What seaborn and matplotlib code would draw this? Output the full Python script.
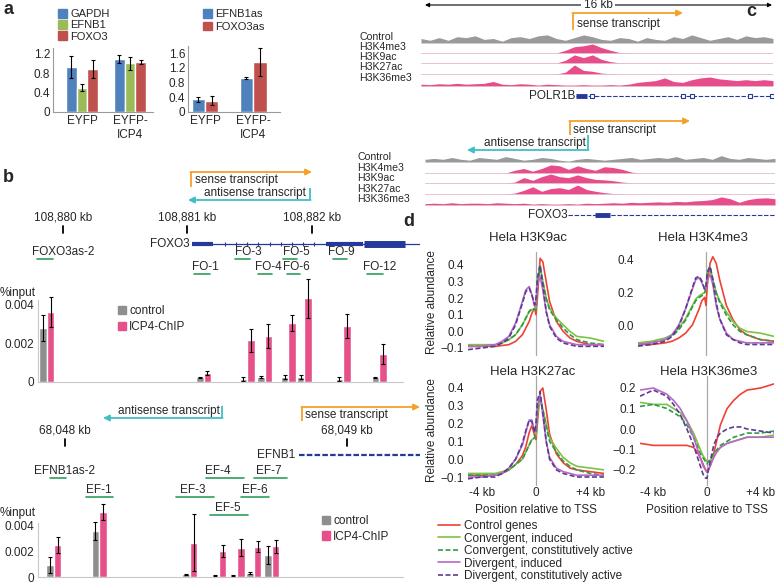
import numpy as np
import pandas as pd
import matplotlib
matplotlib.use("Agg")
import matplotlib.pyplot as plt
from matplotlib.patches import Patch
from matplotlib.lines import Line2D
import seaborn as sns

W, H = 777, 584

# ---------------- data ----------------
# panel a: relative expression
cond_a = ["EYFP", "EYFP-\nICP4"]
gapdh = [0.92, 1.08]
gapdh_err = [0.23, 0.08]
efnb1 = [0.50, 1.00]
efnb1_err = [0.07, 0.13]
foxo3 = [0.88, 1.02]
foxo3_err = [0.19, 0.04]
efnb1as = [0.35, 0.92]
efnb1as_err = [0.07, 0.03]
foxo3as = [0.31, 1.36]
foxo3as_err = [0.12, 0.38]

# panel b, FOXO3 locus (kb from 108,880 kb)
fo_names = ["FOXO3as-2", "FO-1", "FO-3", "FO-4", "FO-5", "FO-6", "FO-9", "FO-12"]
fo_pos = [-0.13, 1.13, 1.48, 1.62, 1.81, 1.94, 2.25, 2.54]
fo_ctrl = [0.00277, 0.00025, 0.00015, 0.00024, 0.00027, 0.00027, 0.00015, 0.00024]
fo_ctrl_err = [0.00065, 0.00002, 0.0001, 0.00005, 0.0001, 0.0001, 0.0001, 0.00002]
fo_chip = [0.0036, 0.00046, 0.00215, 0.00236, 0.00303, 0.0043, 0.00287, 0.00144]
fo_chip_err = [0.00077, 0.0001, 0.0006, 0.0006, 0.0004, 0.001, 0.0006, 0.0005]
fo_amp_start = [-0.209, 1.052, 1.382, 1.566, 1.767, 1.799, 2.169, 2.442]
fo_amp_end = [-0.080, 1.181, 1.502, 1.679, 1.880, 1.904, 2.281, 2.570]
fo_label_kb = [0.0, 1.141, 1.486, 1.647, 1.871, 1.871, 2.233, 2.546]
fo_row = [0, 1, 0, 1, 0, 1, 0, 1]

# panel b, EFNB1 locus (kb from 68,048 kb)
ef_names = ["EFNB1as-2", "EF-1", "EF-3", "EF-4", "EF-5", "EF-6", "EF-7"]
ef_pos = [-0.039, 0.121, 0.443, 0.546, 0.610, 0.670, 0.734]
ef_ctrl = [0.00094, 0.0036, 0.0002, 0.0001, 0.0001, 0.0003, 0.0017]
ef_ctrl_err = [0.0006, 0.0007, 0.00003, 0.00005, 0.00006, 0.00006, 0.0007]
ef_chip = [0.0025, 0.0051, 0.0027, 0.00206, 0.0023, 0.00238, 0.0024]
ef_chip_err = [0.0006, 0.0006, 0.0022, 0.00046, 0.00065, 0.00043, 0.0005]
ef_amp_start = [-0.053, 0.074, 0.394, 0.500, 0.514, 0.624, 0.670]
ef_amp_end = [0.004, 0.170, 0.528, 0.635, 0.649, 0.723, 0.787]
ef_label_kb = [0.0, 0.121, 0.454, 0.543, 0.578, 0.674, 0.723]
ef_row = [0, 1, 1, 0, 2, 1, 0]

# panel c, coverage tracks (16 kb windows, 40 bins)
polr_control = [0.5, 0.3, 0.6, 0.3, 0.7, 0.6, 0.8, 0.4, 0.5, 0.2, 0.6, 0.7, 0.5, 0.8, 0.9, 0.5, 0.3, 0.6, 0.9, 0.7,
                0.4, 0.3, 0.6, 0.5, 0.2, 0.6, 0.4, 0.3, 0.7, 0.5, 0.9, 0.6, 0.3, 0.5, 0.7, 0.4, 0.8, 0.6, 0.7, 0.5]
polr_k4 = [0, 0, 0, 0, 0, 0, 0, 0, 0, 0, 0, 0, 0, 0, 0, 0, 0.3, 0.7, 0.8, 1.0,
           0.6, 0.3, 0.05, 0, 0, 0, 0, 0, 0, 0, 0, 0, 0, 0, 0, 0, 0, 0, 0, 0]
polr_k9 = [0, 0, 0, 0, 0, 0, 0, 0, 0, 0, 0, 0, 0, 0, 0, 0, 0.3, 0.9, 0.6, 0.9,
           0.4, 0.15, 0.02, 0, 0, 0, 0, 0, 0, 0, 0, 0, 0, 0, 0, 0, 0, 0, 0, 0]
polr_k27 = [0, 0, 0, 0, 0, 0, 0, 0, 0, 0, 0, 0, 0, 0, 0, 0, 0.2, 1.0, 0.4, 0.3,
            0.1, 0.02, 0, 0, 0, 0, 0, 0, 0, 0, 0, 0, 0, 0, 0, 0, 0, 0, 0, 0]
polr_k36 = [0.2, 0.15, 0.25, 0.2, 0.3, 0.2, 0.25, 0.3, 0.5, 0.2, 0.15, 0.25, 0.2, 0.1, 0.2, 0.15, 0.1, 0.1, 0.15, 0.1,
            0.1, 0.15, 0.1, 0.2, 0.4, 0.5, 0.6, 0.9, 0.5, 0.4, 0.7, 0.9, 1.0, 0.8, 0.7, 0.6, 0.7, 0.6, 0.7, 0.6]
foxo_control = [0.3, 0.4, 0.3, 0.5, 0.3, 0.2, 0.5, 0.4, 0.3, 0.6, 0.4, 0.2, 0.3, 0.5, 0.4, 0.2, 0.1, 0.3, 0.4, 0.3,
                0.2, 0.3, 0.4, 0.5, 0.3, 0.4, 0.5, 0.4, 0.6, 0.3, 0.4, 0.5, 0.3, 0.7, 0.4, 0.3, 0.5, 0.4, 0.3, 0.4]
foxo_k4 = [0, 0, 0, 0, 0, 0, 0, 0, 0, 0, 0.3, 0.5, 0.2, 0.5, 0.9, 0.8, 0.4, 0.8, 0.5, 0.3,
           0.7, 0.6, 0.4, 0.1, 0, 0, 0, 0, 0, 0, 0, 0, 0, 0, 0, 0, 0, 0, 0, 0]
foxo_k9 = [0, 0, 0, 0, 0, 0, 0, 0, 0, 0, 0.1, 0.6, 0.3, 0.7, 1.0, 0.7, 0.6, 0.9, 0.6, 0.4,
           0.35, 0.25, 0.1, 0.02, 0, 0, 0, 0, 0, 0, 0, 0, 0, 0, 0, 0, 0, 0, 0, 0]
foxo_k27 = [0, 0, 0, 0, 0, 0, 0, 0, 0, 0, 0.1, 0.4, 0.8, 0.3, 0.6, 0.7, 0.5, 1.0, 0.5, 0.3,
            0.15, 0.05, 0, 0, 0, 0, 0, 0, 0, 0, 0, 0, 0, 0, 0, 0, 0, 0, 0, 0]
foxo_k36 = [0.15, 0.2, 0.15, 0.25, 0.15, 0.2, 0.2, 0.15, 0.25, 0.2, 0.15, 0.2, 0.1, 0.15, 0.1, 0.1, 0.15, 0.1, 0.2, 0.15,
            0.2, 0.25, 0.2, 0.3, 0.25, 0.3, 0.35, 0.3, 0.4, 0.35, 0.45, 0.5, 0.6, 0.9, 0.7, 0.3, 0.6, 0.75, 0.8, 0.7]
track_names = ["Control", "H3K4me3", "H3K9ac", "H3K27ac", "H3K36me3"]

# panel d, meta-profiles around TSS (kb)
d_pos = [-5, -4, -3, -2.5, -2, -1.5, -1, -0.75, -0.5, -0.3, -0.1, 0, 0.1, 0.3, 0.5, 0.75, 1, 1.5, 2, 2.5, 3, 4, 5]
groups = ["Control genes", "Convergent, induced", "Convergent, constitutively active",
          "Divergent, induced", "Divergent, constitutively active"]
k9_ctrl = [-0.09, -0.09, -0.09, -0.085, -0.08, -0.06, -0.02, 0.02, 0.06, 0.11, 0.14, 0.10, 0.2, 0.44, 0.42, 0.3, 0.18, 0.06, 0.0, -0.04, -0.06, -0.08, -0.08]
k9_conv_ind = [-0.08, -0.08, -0.08, -0.07, -0.05, -0.02, 0.04, 0.08, 0.12, 0.13, 0.13, 0.14, 0.3, 0.40, 0.3, 0.2, 0.14, 0.08, 0.04, 0.0, -0.03, -0.04, -0.06]
k9_conv_con = [-0.09, -0.09, -0.08, -0.07, -0.05, -0.02, 0.04, 0.08, 0.12, 0.14, 0.13, 0.13, 0.28, 0.38, 0.3, 0.2, 0.13, 0.07, 0.02, -0.02, -0.05, -0.07, -0.08]
k9_div_ind = [-0.09, -0.09, -0.08, -0.06, -0.03, 0.05, 0.18, 0.25, 0.27, 0.22, 0.15, 0.17, 0.28, 0.33, 0.25, 0.12, 0.04, -0.03, -0.06, -0.07, -0.08, -0.08, -0.08]
k9_div_con = [-0.11, -0.1, -0.09, -0.07, -0.04, 0.04, 0.17, 0.24, 0.26, 0.22, 0.16, 0.2, 0.32, 0.40, 0.28, 0.12, 0.03, -0.04, -0.07, -0.08, -0.09, -0.09, -0.09]
k4_ctrl = [-0.12, -0.12, -0.11, -0.1, -0.08, -0.05, 0.0, 0.05, 0.1, 0.15, 0.17, 0.12, 0.25, 0.38, 0.42, 0.38, 0.28, 0.12, 0.03, -0.03, -0.06, -0.09, -0.10]
k4_conv_ind = [-0.11, -0.1, -0.08, -0.06, -0.02, 0.04, 0.12, 0.16, 0.18, 0.19, 0.2, 0.22, 0.32, 0.35, 0.28, 0.2, 0.15, 0.08, 0.02, -0.02, -0.04, -0.05, -0.07]
k4_conv_con = [-0.12, -0.11, -0.09, -0.07, -0.03, 0.03, 0.11, 0.15, 0.17, 0.18, 0.2, 0.22, 0.33, 0.36, 0.28, 0.2, 0.14, 0.06, 0.0, -0.04, -0.06, -0.09, -0.10]
k4_div_ind = [-0.12, -0.11, -0.09, -0.06, 0.0, 0.1, 0.22, 0.28, 0.29, 0.26, 0.22, 0.22, 0.28, 0.31, 0.25, 0.12, 0.04, -0.05, -0.09, -0.10, -0.11, -0.11, -0.11]
k4_div_con = [-0.13, -0.12, -0.1, -0.07, -0.01, 0.1, 0.23, 0.29, 0.30, 0.27, 0.22, 0.24, 0.32, 0.36, 0.28, 0.14, 0.04, -0.06, -0.09, -0.11, -0.12, -0.12, -0.12]
k27_ctrl = [-0.09, -0.09, -0.09, -0.08, -0.06, -0.03, 0.02, 0.07, 0.15, 0.19, 0.13, 0.11, 0.2, 0.38, 0.40, 0.28, 0.14, 0.03, -0.02, -0.05, -0.06, -0.07, -0.08]
k27_conv_ind = [-0.08, -0.08, -0.08, -0.07, -0.06, -0.03, 0.0, 0.04, 0.08, 0.11, 0.12, 0.13, 0.25, 0.34, 0.28, 0.2, 0.12, 0.06, 0.01, -0.02, -0.04, -0.05, -0.06]
k27_conv_con = [-0.09, -0.09, -0.09, -0.08, -0.06, -0.03, 0.0, 0.04, 0.08, 0.11, 0.12, 0.14, 0.27, 0.36, 0.28, 0.18, 0.1, 0.04, -0.01, -0.04, -0.06, -0.08, -0.09]
k27_div_ind = [-0.1, -0.1, -0.09, -0.08, -0.05, 0.0, 0.08, 0.15, 0.22, 0.22, 0.15, 0.18, 0.3, 0.36, 0.25, 0.1, 0.01, -0.05, -0.07, -0.08, -0.09, -0.09, -0.09]
k27_div_con = [-0.11, -0.1, -0.1, -0.08, -0.05, 0.0, 0.09, 0.16, 0.22, 0.21, 0.15, 0.2, 0.33, 0.38, 0.26, 0.1, 0.0, -0.06, -0.08, -0.09, -0.10, -0.10, -0.10]
k36_ctrl = [-0.07, -0.08, -0.08, -0.08, -0.08, -0.08, -0.09, -0.11, -0.14, -0.17, -0.2, -0.21, -0.2, -0.17, -0.12, -0.05, 0.02, 0.1, 0.14, 0.17, 0.19, 0.2, 0.22]
k36_conv_ind = [0.13, 0.12, 0.12, 0.1, 0.08, 0.04, -0.02, -0.06, -0.1, -0.13, -0.15, -0.16, -0.16, -0.15, -0.13, -0.11, -0.09, -0.07, -0.06, -0.05, -0.04, -0.04, -0.03]
k36_conv_con = [0.11, 0.12, 0.1, 0.08, 0.06, 0.02, -0.04, -0.08, -0.12, -0.14, -0.16, -0.17, -0.16, -0.14, -0.12, -0.1, -0.08, -0.06, -0.04, -0.03, -0.02, -0.02, -0.01]
k36_div_ind = [0.19, 0.2, 0.17, 0.14, 0.1, 0.04, -0.04, -0.09, -0.14, -0.18, -0.2, -0.21, -0.2, -0.17, -0.14, -0.11, -0.09, -0.07, -0.06, -0.05, -0.04, -0.04, -0.04]
k36_div_con = [0.16, 0.19, 0.16, 0.12, 0.07, 0.0, -0.08, -0.13, -0.18, -0.22, -0.24, -0.24, -0.2, -0.14, -0.08, -0.04, -0.02, 0.0, 0.01, 0.01, 0.0, -0.01, -0.02]

# ---------------- style ----------------
sns.set_style("white")
plt.rcParams["font.family"] = ["Liberation Sans", "DejaVu Sans"]
plt.rcParams["font.size"] = 8.5

BLUE, GREEN_A, RED_A = "#4f81bd", "#9bbb59", "#c0504d"
GRAY_BAR, PINK = "#8e8e8e", "#e6518b"
ORANGE, CYAN, NAVY, PRIMER = "#f5a02a", "#3fbfc6", "#25399a", "#2f9e5b"
TRACK_GRAY, TRACK_PINK = "#9a9a9a", "#e64d8a"
D_COLORS = dict(zip(groups, ["#ef4136", "#7dc242", "#2e9a4a", "#b968c7", "#5b3c94"]))
D_DASHES = dict(zip(groups, ["", "", (3, 1.5), "", (3, 1.5)]))

fig = plt.figure(figsize=(W / 100, H / 100), dpi=100)


def px_axes(x0, y0, x1, y1):
    ax = fig.add_axes([x0 / W, 1 - y1 / H, (x1 - x0) / W, (y1 - y0) / H])
    ax.set_facecolor("none")
    return ax


def px_legend(handles, labels, x, y, **kw):
    opts = dict(loc="upper left", frameon=False, borderpad=0, borderaxespad=0,
                handlelength=0.8, handleheight=0.8, handletextpad=0.3, labelspacing=0.1, fontsize=8)
    opts.update(kw)
    fig.legend(handles, labels, bbox_to_anchor=(x / W, 1 - y / H), **opts)


ov = px_axes(0, 0, W, H)
ov.set_xlim(0, W)
ov.set_ylim(H, 0)
ov.axis("off")

for letter, (lx, ly) in zip("abcd", [(3, 9), (3, 178), (746, 12), (403, 222)]):
    ov.text(lx, ly, letter, fontsize=13, fontweight="bold", ha="left", va="center")


def transcript(x0, y0, y1, x1, color, label, tx, ty, ha):
    ov.plot([x0, x0], [y0, y1], color=color, lw=1.3, solid_capstyle="butt")
    ov.annotate("", xy=(x1, y1), xytext=(x0 - (0.6 if x1 > x0 else -0.6), y1),
                arrowprops=dict(arrowstyle="-|>", color=color, lw=1.3, mutation_scale=9, shrinkA=0, shrinkB=0))
    ov.text(tx, ty, label, fontsize=8.5, ha=ha, va="center")


# ---------------- panel a ----------------
def style_a(ax, yticks, ylim, xlim):
    ax.set_xlim(xlim)
    ax.set_ylim(ylim)
    ax.set_yticks(yticks)
    ax.set_yticklabels([f"{t:g}" for t in yticks])
    ax.set_xlabel("")
    ax.set_ylabel("")
    for s in ["top", "right"]:
        ax.spines[s].set_visible(False)
    for s in ["left", "bottom"]:
        ax.spines[s].set_color("#9a9a9a")
        ax.spines[s].set_linewidth(0.8)
    ax.tick_params(length=0, labelsize=8.5, pad=2)


def err_bars(ax, err_lists):
    for cont, errs in zip(ax.containers, err_lists):
        for bar, e in zip(cont, errs):
            ax.errorbar(bar.get_x() + bar.get_width() / 2, bar.get_height(), yerr=e,
                        color="black", lw=0.8, capsize=1.2, capthick=0.8)


df_a1 = pd.DataFrame({"condition": cond_a * 3,
                      "gene": ["GAPDH"] * 2 + ["EFNB1"] * 2 + ["FOXO3"] * 2,
                      "value": gapdh + efnb1 + foxo3})
ax = px_axes(53, 48, 153, 112)
sns.barplot(data=df_a1, x="condition", y="value", hue="gene", palette=[BLUE, GREEN_A, RED_A],
            width=0.67, errorbar=None, saturation=1, legend=False, ax=ax)
err_bars(ax, [gapdh_err, efnb1_err, foxo3_err])
style_a(ax, [0, 0.4, 0.8, 1.2], (0, 1.313), (-0.604, 1.48))
px_legend([Patch(color=c) for c in [BLUE, GREEN_A, RED_A]], ["GAPDH", "EFNB1", "FOXO3"], 58, 9)

df_a2 = pd.DataFrame({"condition": cond_a * 2,
                      "gene": ["EFNB1as"] * 2 + ["FOXO3as"] * 2,
                      "value": efnb1as + foxo3as})
ax = px_axes(188, 46, 280, 112)
sns.barplot(data=df_a2, x="condition", y="value", hue="gene", palette=[BLUE, RED_A],
            width=0.56, errorbar=None, saturation=1, legend=False, ax=ax)
err_bars(ax, [efnb1as_err, foxo3as_err])
style_a(ax, [0, 0.4, 0.8, 1.2, 1.6], (0, 1.79), (-0.354, 1.56))
px_legend([Patch(color=c) for c in [BLUE, RED_A]], ["EFNB1as", "FOXO3as"], 203, 9, labelspacing=0.25)


# ---------------- panel b ----------------
def chip_bars(box, xlim, ylim, spine_end, pos, ctrl, ctrl_err, chip, chip_err, bw, yticks, ylabels):
    ax = px_axes(*box)
    ekw = dict(lw=0.8, capsize=1.3, capthick=0.8, ecolor="black")
    p = np.array(pos)
    ax.bar(p - bw / 2, ctrl, width=bw, color=GRAY_BAR, yerr=ctrl_err, error_kw=ekw)
    ax.bar(p + bw / 2, chip, width=bw, color=PINK, yerr=chip_err, error_kw=ekw)
    ax.set_xlim(xlim)
    ax.set_ylim(ylim)
    ax.set_xticks([])
    ax.set_yticks(yticks)
    ax.set_yticklabels(ylabels)
    ax.tick_params(length=0, labelsize=8.5, pad=3)
    for s in ["top", "right"]:
        ax.spines[s].set_visible(False)
    for s in ["left", "bottom"]:
        ax.spines[s].set_color("#c8c8c8")
        ax.spines[s].set_linewidth(0.8)
    ax.spines["bottom"].set_bounds(xlim[0], spine_end)
    ax.spines["left"].set_bounds(0, yticks[-1] * 1.05)
    return ax


def locus_track(box, xlim, ylim, coords, coord_kb, tick_y, label_y, names, amp_s, amp_e, label_kb, rows, row_y):
    ax = px_axes(*box)
    ax.set_xlim(xlim)
    ax.set_ylim(ylim)
    ax.axis("off")
    for c, k in zip(coords, coord_kb):
        ax.text(k, label_y, c, ha="center", va="center", fontsize=8.5)
        ax.plot([k, k], tick_y, color="black", lw=1.3)
    for n, s, e, k, r in zip(names, amp_s, amp_e, label_kb, rows):
        ty = row_y[r]
        ax.text(k, ty, n, ha="center", va="center", fontsize=8.5)
        ax.plot([s, e], [ty + 6.5, ty + 6.5], color=PRIMER, lw=1.2, clip_on=False)
    return ax


# FOXO3 locus
xl_fo = (-0.2008, 2.868)
chip_bars((38, 275, 420, 382), xl_fo, (0, 0.0055), 2.73, fo_pos, fo_ctrl, fo_ctrl_err, fo_chip, fo_chip_err,
          0.06, [0, 0.002, 0.004], ["0", "0.002", "0.004"])
tb = locus_track((38, 205, 420, 285), xl_fo, (285, 205), ["108,880 kb", "108,881 kb", "108,882 kb"], [0, 1, 2],
                 [226, 233], 218, fo_names, fo_amp_start, fo_amp_end, fo_label_kb, fo_row, [252, 267.5])
tb.text(1.02, 244, "FOXO3", ha="right", va="center", fontsize=8.5)
tb.plot([1.036, 2.868], [244, 244], color=NAVY, lw=0.9)
tb.plot([1.036, 1.205], [244, 244], color=NAVY, lw=3, solid_capstyle="butt")
tb.plot([2.112, 2.41], [244, 244], color=NAVY, lw=3, solid_capstyle="butt")
tb.plot([2.418, 2.747], [244, 244], color=NAVY, lw=5, solid_capstyle="butt")
tb.plot(np.arange(1.3, 2.1, 0.09), np.full(9, 244), ls="none", marker="|", ms=3, color=NAVY, mew=0.8)
ov.text(0, 293, "%input", fontsize=8.5, ha="left", va="center")
px_legend([Patch(color=GRAY_BAR), Patch(color=PINK)], ["control", "ICP4-ChIP"], 118, 305,
          fontsize=8.5, handlelength=0.7, handleheight=0.7, handletextpad=0.25, labelspacing=0.35)
transcript(191, 187, 172, 312, ORANGE, "sense transcript", 195, 180, "left")
transcript(310, 188, 200, 188, CYAN, "antisense transcript", 306, 193, "right")

# EFNB1 locus
xl_ef = (-0.0957, 1.2589)
chip_bars((38, 503, 420, 577), xl_ef, (0, 0.0058), 1.198, ef_pos, ef_ctrl, ef_ctrl_err, ef_chip, ef_chip_err,
          0.0266, [0, 0.002, 0.004], ["0", "0.002", "0.004"])
tb = locus_track((38, 422, 420, 522), xl_ef, (522, 422), ["68,048 kb", "68,049 kb"], [0, 1],
                 [439, 446], 430, ef_names, ef_amp_start, ef_amp_end, ef_label_kb, ef_row, [471, 490, 508])
tb.text(0.816, 455, "EFNB1", ha="right", va="center", fontsize=8.5)
tb.plot([0.83, 1.259], [455, 455], color=NAVY, lw=1.6, ls=(0, (2.5, 1)))
ov.text(0, 513, "%input", fontsize=8.5, ha="left", va="center")
px_legend([Patch(color=GRAY_BAR), Patch(color=PINK)], ["control", "ICP4-ChIP"], 322, 515,
          fontsize=8.5, handlelength=0.7, handleheight=0.7, handletextpad=0.25, labelspacing=0.3)
transcript(222, 406, 418, 103, CYAN, "antisense transcript", 220, 411, "right")
transcript(302, 421, 407, 420, ORANGE, "sense transcript", 305, 415, "left")

# ---------------- panel c ----------------
ov.annotate("", xy=(425, 5), xytext=(772, 5),
            arrowprops=dict(arrowstyle="<|-|>", color="black", lw=0.8, mutation_scale=6, shrinkA=0, shrinkB=0))
ov.text(598, 5, "16 kb", ha="center", va="center", fontsize=8.5,
        bbox=dict(facecolor="white", edgecolor="none", pad=1.5))

track_x = np.linspace(0, 16, 40)


def track_set(box, tracks, bases, gene, gene_kb, gene_y, exon, label_x, label_y):
    ax = px_axes(*box)
    ax.set_xlim(0, 16)
    ax.set_ylim(box[3], box[1])
    ax.axis("off")
    for i, (vals, base) in enumerate(zip(tracks, bases)):
        col = TRACK_GRAY if i == 0 else TRACK_PINK
        if i > 0:
            ax.axhline(base, color="#e3b9c9", lw=0.6)
        ax.fill_between(track_x, base, base - 9 * np.array(vals), color=col, lw=0)
    ax.text(gene_kb - 0.05, gene_y, gene, ha="right", va="center", fontsize=8.5)
    ax.plot([gene_kb, 16], [gene_y, gene_y], color=NAVY, lw=0.8, ls=(0, (4, 1.5)))
    ax.plot(exon, [gene_y, gene_y], color=NAVY, lw=3.5, solid_capstyle="butt")
    for name, y in zip(track_names, label_y):
        ov.text(label_x, y, name, ha="left", va="center", fontsize=7.6, linespacing=1)
    return ax


axc = track_set((421, 25, 773, 100), [polr_control, polr_k4, polr_k9, polr_k27, polr_k36], [43, 53, 63, 74, 86],
                "POLR1B", 7.05, 96, [7.05, 7.55], 359, [37, 47.5, 57.5, 67.5, 78])
axc.plot([7.75, 11.9, 12.3, 14.95, 15.95], [96] * 5, ls="none", marker="s", ms=2.5, color=NAVY, mfc="white", mew=0.8)
transcript(573, 30, 13, 683, ORANGE, "sense transcript", 577, 24, "left")

axc = track_set((425, 145, 775, 220), [foxo_control, foxo_k4, foxo_k9, foxo_k27, foxo_k36], [162, 173, 183, 194, 205],
                "FOXO3", 6.55, 215, [7.77, 8.46], 357, [157, 168, 178, 188.5, 199.5])
transcript(570, 135, 121, 690, ORANGE, "sense transcript", 573, 130, "left")
transcript(588, 135, 150, 467, CYAN, "antisense transcript", 586, 143, "right")


# ---------------- panel d ----------------
def ylim_px(top, bot, y1, v1, y2, v2):
    per = (v1 - v2) / (y2 - y1)
    return (v1 - (bot - y1) * per, v1 - (top - y1) * per)


def d_panel(box, curves, yticks, ylim, bottom):
    ax = px_axes(*box)
    df = pd.DataFrame({"pos": d_pos * len(groups),
                       "val": sum(curves, []),
                       "group": np.repeat(groups, len(d_pos))})
    ax.axvline(0, color="#a8a8a8", lw=0.9)
    sns.lineplot(data=df, x="pos", y="val", hue="group", style="group", palette=D_COLORS, dashes=D_DASHES,
                 hue_order=groups, style_order=groups, errorbar=None, lw=1.2, legend=False, ax=ax)
    ax.set_xlim(-5, 5)
    ax.set_ylim(ylim)
    ax.set_yticks(yticks)
    ax.set_yticklabels([f"{t:.1f}".replace("-", "\u2212") for t in yticks])
    if bottom:
        ax.set_xticks([-4, 0, 4])
        ax.set_xticklabels(["-4 kb", "0", "+4 kb"])
    else:
        ax.set_xticks([])
    ax.set_xlabel("")
    ax.set_ylabel("")
    ax.tick_params(axis="y", direction="out", length=1.5, width=1.2, color="#555555", pad=1.5, labelsize=8.5)
    ax.tick_params(axis="x", length=0, pad=1, labelsize=8.5)
    for s in ax.spines.values():
        s.set_visible(False)
    return ax


d_panel((468, 252, 604, 356), [k9_ctrl, k9_conv_ind, k9_conv_con, k9_div_ind, k9_div_con],
        [-0.1, 0.0, 0.1, 0.2, 0.3, 0.4], ylim_px(252, 356, 265, 0.4, 348, -0.1), False)
d_panel((638, 252, 774, 356), [k4_ctrl, k4_conv_ind, k4_conv_con, k4_div_ind, k4_div_con],
        [0.0, 0.2, 0.4], ylim_px(252, 356, 260, 0.4, 325, 0.0), False)
d_panel((468, 376, 604, 486), [k27_ctrl, k27_conv_ind, k27_conv_con, k27_div_ind, k27_div_con],
        [-0.1, 0.0, 0.1, 0.2, 0.3, 0.4], ylim_px(376, 486, 388, 0.4, 477, -0.1), True)
d_panel((640, 376, 774, 486), [k36_ctrl, k36_conv_ind, k36_conv_con, k36_div_ind, k36_div_con],
        [-0.2, -0.1, 0.0, 0.1, 0.2], ylim_px(376, 486, 388, 0.2, 470, -0.2), True)

for tx, ty, t in [(528, 238, "Hela H3K9ac"), (703, 238, "Hela H3K4me3"),
                  (533, 372, "Hela H3K27ac"), (709, 372, "Hela H3K36me3")]:
    ov.text(tx, ty, t, ha="center", va="center", fontsize=9.5)
for tx in [536, 707]:
    ov.text(tx, 510, "Position relative to TSS", ha="center", va="center", fontsize=8.5)
for ty in [302, 430]:
    ov.text(432, ty, "Relative abundance", ha="center", va="center", fontsize=8.5, rotation=90)

px_legend([Line2D([], [], color=D_COLORS[g], lw=1.2, dashes=D_DASHES[g] if D_DASHES[g] else (None, None))
           for g in groups], groups, 438, 520, fontsize=8.5, handlelength=1.9, handletextpad=0.3, labelspacing=0.05)

fig.savefig("out.png", dpi=100)
